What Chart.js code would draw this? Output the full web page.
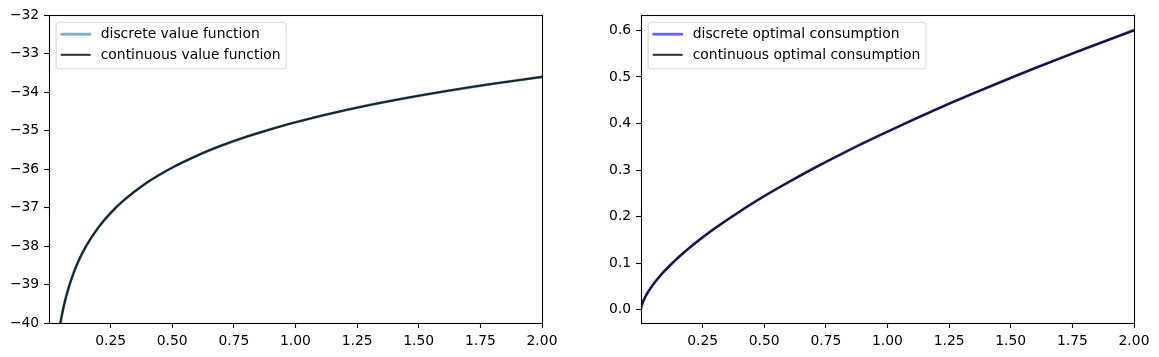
<!DOCTYPE html>
<html><head><meta charset="utf-8">
<script src="https://cdn.jsdelivr.net/npm/chart.js@4/dist/chart.umd.min.js"></script>
<style>
html,body{margin:0;padding:0;background:#fff;width:1159px;height:357px;overflow:hidden;}
#c1{position:absolute;left:0;top:0;}
#c2{position:absolute;left:590px;top:0;}
</style></head><body>
<canvas id="c1" width="580" height="357"></canvas>
<canvas id="c2" width="569" height="357"></canvas>
<script>
// ---- data ----
const vGrid = [0.0001, 0.03, 0.04, 0.05, 0.06, 0.07, 0.08, 0.10, 0.12, 0.15, 0.20, 0.25, 0.30, 0.40, 0.50, 0.60, 0.70, 0.80, 0.90, 1.00, 1.20, 1.40, 1.60, 1.80, 2.00];
const vDiscrete = [-50.43, -40.744, -40.255, -39.876, -39.566, -39.304, -39.077, -38.698, -38.388, -38.009, -37.520, -37.141, -36.832, -36.343, -35.964, -35.654, -35.392, -35.165, -34.965, -34.786, -34.476, -34.214, -33.988, -33.787, -33.608];
const vContinuous = [-50.43, -40.744, -40.255, -39.876, -39.566, -39.304, -39.077, -38.698, -38.388, -38.009, -37.520, -37.141, -36.832, -36.343, -35.964, -35.654, -35.392, -35.165, -34.965, -34.786, -34.476, -34.214, -33.988, -33.787, -33.608];

const cGrid = [0.0001, 0.002, 0.005, 0.01, 0.02, 0.03, 0.05, 0.075, 0.10, 0.15, 0.20, 0.25, 0.30, 0.40, 0.50, 0.60, 0.70, 0.80, 0.90, 1.00, 1.20, 1.40, 1.60, 1.80, 2.00];
const cDiscrete = [0.0010, 0.0068, 0.0123, 0.0190, 0.0302, 0.0390, 0.0547, 0.0709, 0.0858, 0.1113, 0.1346, 0.1551, 0.1751, 0.2106, 0.2440, 0.2742, 0.3036, 0.3306, 0.3574, 0.3823, 0.4309, 0.4758, 0.5194, 0.5603, 0.6004];
const cContinuous = [0.00096, 0.00674, 0.01222, 0.01917, 0.03009, 0.03915, 0.05458, 0.07102, 0.08563, 0.11145, 0.13437, 0.15534, 0.17488, 0.21085, 0.24376, 0.27443, 0.30336, 0.33087, 0.35717, 0.38250, 0.43062, 0.47601, 0.51917, 0.56048, 0.60020];

const xTicks = [0.25, 0.50, 0.75, 1.00, 1.25, 1.50, 1.75, 2.00];
const vTicks = [-40, -39, -38, -37, -36, -35, -34, -33, -32];
const cTicks = [0.0, 0.1, 0.2, 0.3, 0.4, 0.5, 0.6];
const vLabels = ['discrete value function', 'continuous value function'];
const cLabels = ['discrete optimal consumption', 'continuous optimal consumption'];

// ---- styling ----
const FONT = 'DejaVu Sans';
const TICK_FS = 13.9;
const LEGEND_FS = 13.9;
Chart.defaults.font.family = FONT;
Chart.defaults.font.size = TICK_FS;
Chart.defaults.color = '#000';

function zip(xs, ys) { return xs.map((x, i) => ({x: x, y: ys[i]})); }

const framePlugin = {
  id: 'frame',
  afterDatasetsDraw(chart) {
    const ctx = chart.ctx, a = chart.chartArea;
    ctx.save();
    ctx.strokeStyle = '#000';
    ctx.lineWidth = 1.1;
    ctx.strokeRect(Math.round(a.left) + 0.5, Math.round(a.top) + 0.5,
                   Math.round(a.right - a.left), Math.round(a.bottom - a.top));
    ctx.restore();
  }
};

const legendPlugin = {
  id: 'mlegend',
  afterDraw(chart) {
    const ctx = chart.ctx, a = chart.chartArea;
    ctx.save();
    ctx.font = LEGEND_FS + 'px "' + FONT + '"';
    const ds = chart.data.datasets;
    const tw = Math.max(...ds.map(d => ctx.measureText(d.label).width));
    const x0 = a.left + 7.2, y0 = a.top + 7.3;
    const padL = 5.6, handle = 27.8, gap = 11.1, padR = 5.6;
    const w = padL + handle + gap + tw + padR;
    const h = 46.6;
    const r = 2.8;
    ctx.beginPath();
    ctx.moveTo(x0 + r, y0);
    ctx.lineTo(x0 + w - r, y0);
    ctx.arcTo(x0 + w, y0, x0 + w, y0 + r, r);
    ctx.lineTo(x0 + w, y0 + h - r);
    ctx.arcTo(x0 + w, y0 + h, x0 + w - r, y0 + h, r);
    ctx.lineTo(x0 + r, y0 + h);
    ctx.arcTo(x0, y0 + h, x0, y0 + h - r, r);
    ctx.lineTo(x0, y0 + r);
    ctx.arcTo(x0, y0, x0 + r, y0, r);
    ctx.closePath();
    ctx.fillStyle = 'rgba(255,255,255,0.8)';
    ctx.fill();
    ctx.strokeStyle = '#d6d6d6';
    ctx.lineWidth = 1;
    ctx.stroke();
    ds.forEach((d, i) => {
      const cy = y0 + 11.9 + 20.6 * i;
      ctx.beginPath();
      ctx.strokeStyle = d.borderColor;
      ctx.lineWidth = d.borderWidth;
      ctx.lineCap = 'square';
      ctx.moveTo(x0 + padL, cy);
      ctx.lineTo(x0 + padL + handle, cy);
      ctx.stroke();
      ctx.fillStyle = '#000';
      ctx.textBaseline = 'middle';
      ctx.textAlign = 'left';
      ctx.fillText(d.label, x0 + padL + handle + gap, cy + 0.5);
    });
    ctx.restore();
  }
};

function makeChart(id, cfg) {
  return new Chart(document.getElementById(id), {
    type: 'line',
    data: {
      datasets: [
        { label: cfg.labels[0], data: zip(cfg.grid, cfg.disc), borderColor: cfg.discColor,
          borderWidth: 2.8, pointRadius: 0, fill: false, cubicInterpolationMode: 'monotone', order: 2 },
        { label: cfg.labels[1], data: zip(cfg.grid, cfg.cont), borderColor: 'rgba(0,0,0,0.8)',
          borderWidth: 2.1, pointRadius: 0, fill: false, cubicInterpolationMode: 'monotone', order: 1 }
      ]
    },
    options: {
      responsive: false,
      animation: false,
      devicePixelRatio: 1,
      layout: { padding: { left: 0, top: 15, right: cfg.padRight, bottom: 0 } },
      plugins: { legend: { display: false }, tooltip: { enabled: false } },
      scales: {
        x: {
          type: 'linear', min: 0.0001, max: 2.0,
          afterBuildTicks: s => { s.ticks = xTicks.map(v => ({value: v})); },
          afterFit: s => { s.height = 34; },
          grid: { display: true, drawOnChartArea: false, drawTicks: true, tickLength: 4.9, color: '#000', tickWidth: 1.1 },
          border: { display: false },
          ticks: { padding: 5.2, maxRotation: 0, autoSkip: false, callback: v => Number(v).toFixed(2) }
        },
        y: {
          type: 'linear', min: cfg.ymin, max: cfg.ymax,
          afterBuildTicks: s => { s.ticks = cfg.yTicks.map(v => ({value: v})); },
          afterFit: s => { s.width = cfg.yWidth; },
          grid: { display: true, drawOnChartArea: false, drawTicks: true, tickLength: 4.9, color: '#000', tickWidth: 1.1 },
          border: { display: false },
          ticks: { padding: 4.9, autoSkip: false, callback: cfg.yFmt }
        }
      }
    },
    plugins: [framePlugin, legendPlugin]
  });
}

makeChart('c1', {
  grid: vGrid, disc: vDiscrete, cont: vContinuous, labels: vLabels,
  discColor: 'rgba(31,119,180,0.6)', ymin: -40, ymax: -32, yTicks: vTicks,
  yWidth: 49, padRight: 38,
  yFmt: v => (v < 0 ? '\u2212' : '') + Math.abs(Math.round(v))
});
makeChart('c2', {
  grid: cGrid, disc: cDiscrete, cont: cContinuous, labels: cLabels,
  discColor: 'rgba(0,0,255,0.6)', ymin: -0.0286, ymax: 0.633, yTicks: cTicks,
  yWidth: 51, padRight: 25,
  yFmt: v => Number(v).toFixed(1)
});
</script>
</body></html>
